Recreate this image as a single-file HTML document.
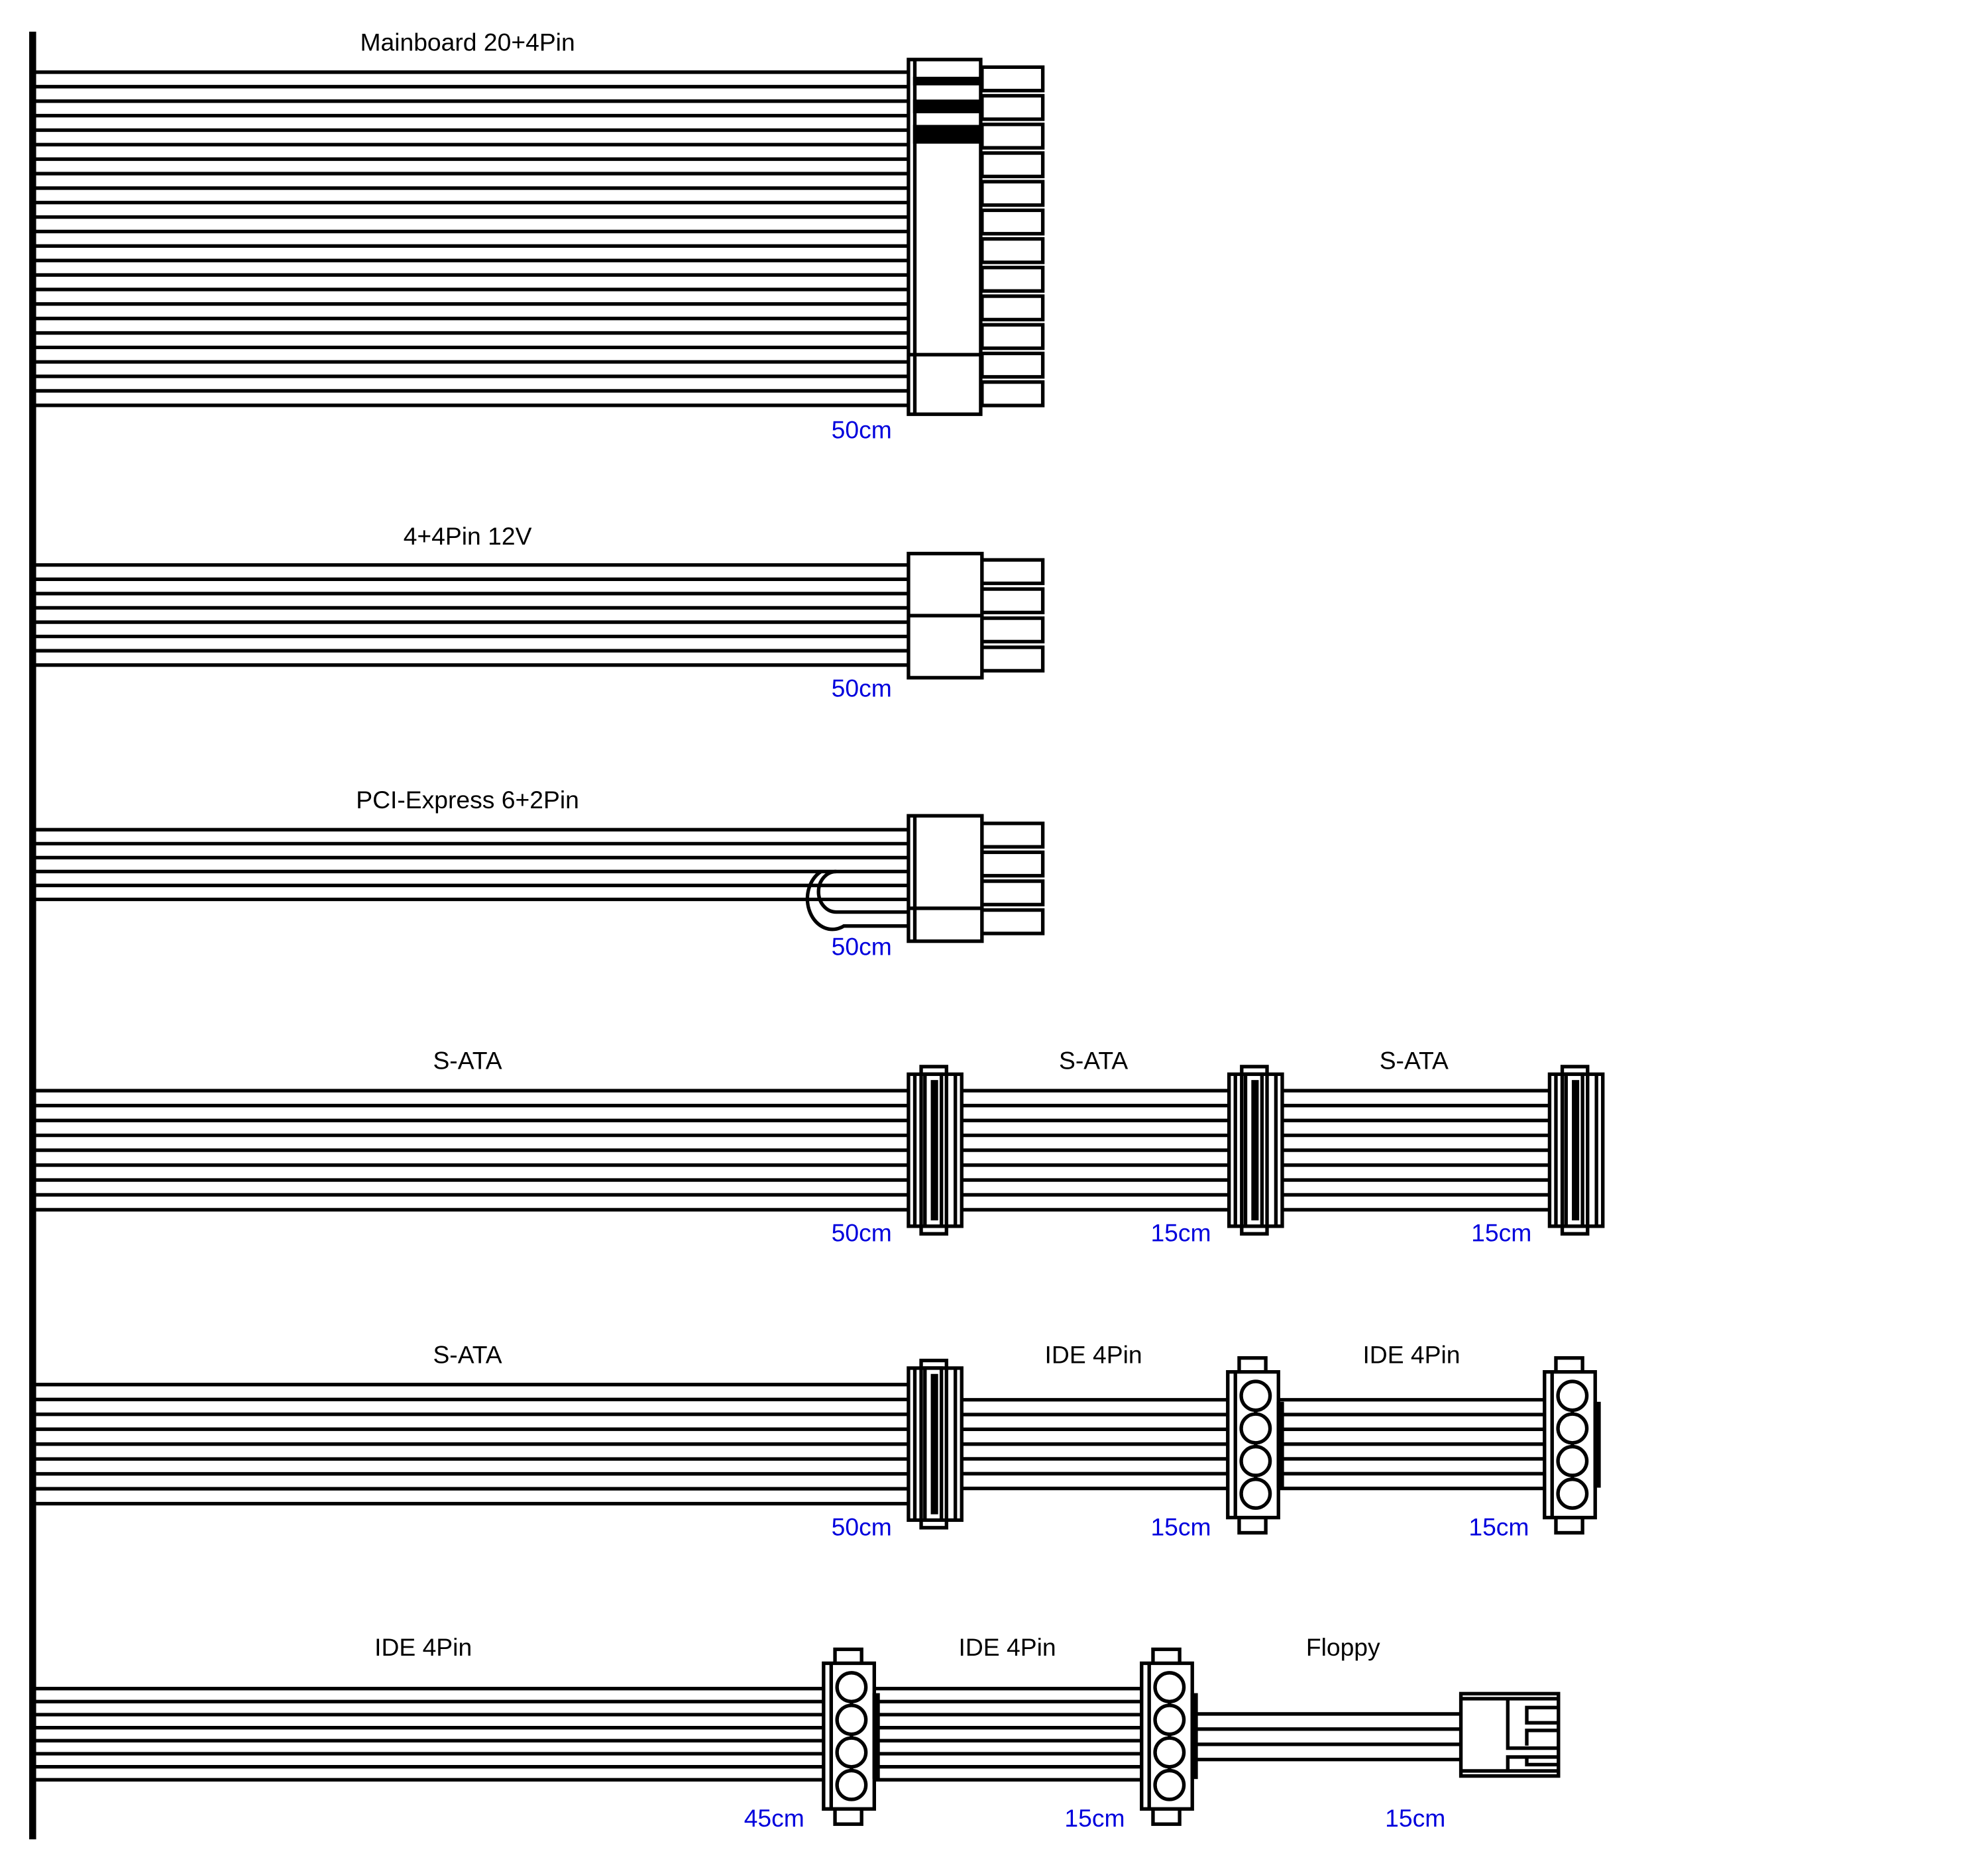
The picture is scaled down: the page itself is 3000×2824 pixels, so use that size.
<!DOCTYPE html>
<html><head><meta charset="utf-8"><style>
html,body{margin:0;padding:0;background:#fff;}
svg{display:block;}
text{font-family:"Liberation Sans",sans-serif;font-size:19.5px;}
.b{fill:#0000dd;}
</style></head><body>
<svg id="s" xmlns="http://www.w3.org/2000/svg" width="3000" height="2824" viewBox="0 0 1569 1477">
<rect width="1600" height="1500" fill="#fff"/>
<g id="g" fill="none" stroke="#000" stroke-width="2.8"></g>
<rect x="23" y="25" width="5.5" height="1427" fill="#000"/>
<g text-anchor="middle">
<text x="369" y="40">Mainboard 20+4Pin</text>
<text x="369" y="430">4+4Pin 12V</text>
<text x="369" y="638">PCI-Express 6+2Pin</text>
<text x="369" y="844">S-ATA</text><text x="863" y="844">S-ATA</text><text x="1116" y="844">S-ATA</text>
<text x="369" y="1076">S-ATA</text><text x="863" y="1076">IDE 4Pin</text><text x="1114" y="1076">IDE 4Pin</text>
<text x="334" y="1307">IDE 4Pin</text><text x="795" y="1307">IDE 4Pin</text><text x="1060" y="1307">Floppy</text>
<text class="b" x="680" y="346">50cm</text>
<text class="b" x="680" y="550">50cm</text>
<text class="b" x="680" y="754">50cm</text>
<text class="b" x="680" y="980">50cm</text><text class="b" x="932" y="980">15cm</text><text class="b" x="1185" y="980">15cm</text>
<text class="b" x="680" y="1212">50cm</text><text class="b" x="932" y="1212">15cm</text><text class="b" x="1183" y="1212">15cm</text>
<text class="b" x="611" y="1442">45cm</text><text class="b" x="864" y="1442">15cm</text><text class="b" x="1117" y="1442">15cm</text>
</g>
</svg>
<script>
var g=document.getElementById('g'),o='';
function L(x1,y1,x2,y2){o+='<line x1="'+x1+'" y1="'+y1+'" x2="'+x2+'" y2="'+y2+'"/>';}
function R(x,y,w,h,f){o+='<rect x="'+x+'" y="'+y+'" width="'+w+'" height="'+h+'" fill="'+(f||'#fff')+'"/>';}
function lines(x1,x2,y0,y1,n){for(var i=0;i<n;i++){var y=y0+(y1-y0)*i/(n-1);L(x1,y,x2,y);}}
// mainboard
lines(28,717,57,320,24);
for(var i=0;i<12;i++){R(775,53+i*22.6,48,18.5);}
R(717,47,57,280);L(722,47,722,327);L(717,280,774,280);
R(722,62,52,4,'#000');R(722,80,52,8,'#000');R(722,100,52,12,'#000');
// 4+4
lines(28,717,446,525,8);
for(var i=0;i<4;i++){R(775,442+i*23,48,18.5);}
R(717,437,58,98);L(717,486,775,486);
// PCIe
lines(28,717,655,710,6);
o+='<path d="M660,688 A14,16 0 0 0 660,720 L717,720"/>';
o+='<path d="M648,688 A18,22 0 0 0 666,731 L717,731"/>';
for(var i=0;i<4;i++){R(775,650+i*22.8,48,18.5);}
R(717,644,58,99);L(722,644,722,743);L(717,717,775,717);
// SATA
function SATA(x,y0,y1){R(x,y0+6,42,y1-y0-12);L(x+5,y0+6,x+5,y1-6);L(x+37,y0+6,x+37,y1-6);
 R(x+10,y0,20,y1-y0);L(x+10,y0+6,x+30,y0+6);L(x+10,y1-6,x+30,y1-6);R(x+13,y0+6,13,y1-y0-12);
 R(x+19,y0+12,3,y1-y0-24,'#000');}
lines(28,1223,861,955,9);
SATA(717,842,974);SATA(970,842,974);SATA(1223,842,974);
// row2
lines(28,717,1093,1187,9);
SATA(717,1074,1206);
lines(759,1219,1105,1175,7);
function IDE(x,y0,y1){R(x+9,y0-11,21,y1-y0+23);R(x,y0,40,y1-y0);L(x+6,y0,x+6,y1);
 R(x+40,y0+25,3,y1-y0-50,'#000');
 var n=4,h=(y1-y0-12)/n;for(var i=0;i<n;i++){o+='<circle cx="'+(x+22)+'" cy="'+(y0+6+h*(i+0.5))+'" r="'+(h/2-1.5)+'"/>';}
 for(var i=1;i<n;i++){var yy=y0+6+h*i;L(x+22,yy-2,x+22,yy+2);}}
IDE(969,1083,1198);IDE(1219,1083,1198);
// row3
lines(28,650,1333,1405,8);
lines(690,901,1333,1405,8);
IDE(650,1313,1428);IDE(901,1313,1428);
lines(941,1153,1353,1389,4);
R(1153,1337,77,65);L(1153,1341,1230,1341);L(1153,1398,1230,1398);
o+='<path d="M1190,1341 L1190,1380 L1230,1380 M1190,1398 L1190,1387 L1230,1387"/>';
o+='<path d="M1230,1348 L1205,1348 L1205,1360 L1230,1360 M1230,1366 L1205,1366 L1205,1378 M1230,1393 L1205,1393 L1205,1387"/>';
g.innerHTML=o;
</script>
</body></html>
